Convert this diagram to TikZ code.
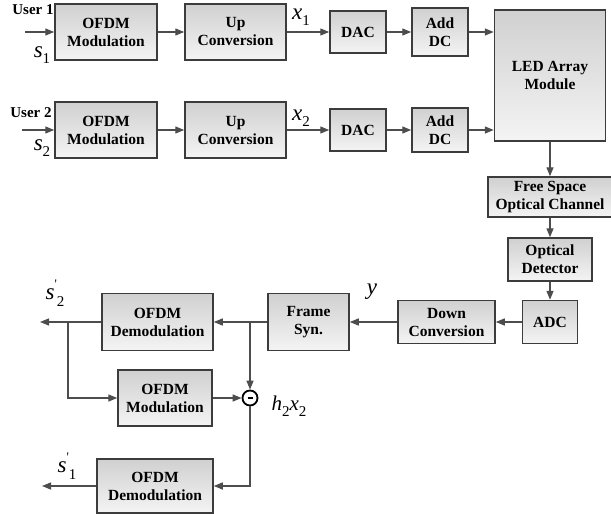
\documentclass[tikz,border=0pt]{standalone}
\usepackage{fontspec}
\setmainfont{Liberation Serif}
\usetikzlibrary{positioning, arrows.meta, calc}
\definecolor{blkline}{HTML}{3C3C3C}
\definecolor{blktop}{HTML}{D0D0D0}
\definecolor{blkbot}{HTML}{F4F4F4}
\definecolor{arrline}{HTML}{4D4D4D}
\tikzset{
  blk/.style={draw=blkline, line width=1.5pt, top color=blktop, bottom color=blkbot,
              align=center, inner sep=0pt, font=\fontsize{15.5}{18}\selectfont\bfseries},
  arr/.style={-{Triangle[length=9pt,width=7pt]}, line width=1.4pt, color=arrline},
  usr/.style={font=\fontsize{15}{18}\selectfont\bfseries, inner sep=0pt},
  lbl/.style={font=\fontsize{23}{23}\selectfont\itshape, inner sep=0pt}
}
\newcommand{\lsub}[1]{\raisebox{-0.28em}{\fontsize{15}{15}\selectfont\upshape #1}}
\newcommand{\lprime}{\raisebox{0.5em}{\fontsize{13}{13}\selectfont\upshape\textquotesingle}}

\begin{document}
\begin{tikzpicture}[x=1pt, y=-1pt]
        \useasboundingbox (0,0) rectangle (611,514);
        % transmitter, user 1
        \node[blk, minimum width=102, minimum height=56] (mod1) at (106,32) {OFDM\\Modulation};
        \node[blk, minimum width=101, minimum height=56] (up1) at (235.5,32) {Up\\Conversion};
        \node[blk, minimum width=56, minimum height=42] (dac1) at (358,32) {DAC};
        \node[blk, minimum width=56, minimum height=48] (dc1) at (440,32) {Add\\DC};
        % transmitter, user 2
        \node[blk, minimum width=102, minimum height=56] (mod2) at (106,130) {OFDM\\Modulation};
        \node[blk, minimum width=101, minimum height=56] (up2) at (235.5,130) {Up\\Conversion};
        \node[blk, minimum width=56, minimum height=42] (dac2) at (358,130) {DAC};
        \node[blk, minimum width=56, minimum height=44] (dc2) at (440,130) {Add\\DC};
        % channel
        \node[blk, minimum width=111, minimum height=131] (led) at (550,75.5) {LED Array\\Module};
        \node[blk, minimum width=124, minimum height=40] (fso) at (550,197) {Free Space\\Optical Channel};
        \node[blk, minimum width=84, minimum height=43] (det) at (550,259.5) {Optical\\Detector};
        \node[blk, minimum width=55, minimum height=43] (adc) at (550,322) {ADC};
        % receiver
        \node[blk, minimum width=97, minimum height=43] (down) at (446.5,322) {Down\\Conversion};
        \node[blk, minimum width=81, minimum height=57] (frame) at (308.5,322) {Frame\\Syn.};
        \node[blk, minimum width=111, minimum height=57] (demod2) at (157.5,322) {OFDM\\Demodulation};
        \node[blk, minimum width=94, minimum height=56] (mod3) at (165,398) {OFDM\\Modulation};
        \node[blk, minimum width=116, minimum height=54] (demod1) at (155,486) {OFDM\\Demodulation};
        \node[circle, draw=black, line width=1.8pt, fill=white, minimum size=15, inner sep=0pt]
              (mnus) at (250,398) {\rule{5pt}{2.2pt}};

        \coordinate (in1) at (25,32);
        \coordinate (in2) at (22,130);
        \coordinate (br1) at (250,322);
        \coordinate (br2) at (68,322);
        \coordinate (out2) at (40,322);
        \coordinate (out1) at (42,486);

        % labels
        \node[usr] (usr1) at (33,10) {User 1};
        \node[usr] (usr2) at (31,113) {User 2};
        \node[lbl] (s1) at (42,55) {s\lsub{1}};
        \node[lbl] (s2) at (42,148) {s\lsub{2}};
        \node[lbl] (x1) at (301,17) {x\lsub{1}};
        \node[lbl] (x2) at (301,118) {x\lsub{2}};
        \node[lbl] (y) at (372,292) {y};
        \node[lbl] (s2r) at (55,293) {s\lprime\lsub{2}};
        \node[lbl] (s1r) at (67,466) {s\lprime\lsub{1}};
        \node[lbl, font=\fontsize{21}{21}\selectfont\itshape] (hx) at (289,406) {h\lsub{2}x\lsub{2}};

        % connectors
        \draw[arr] (in1) -- (mod1);
        \draw[arr] (mod1) -- (up1);
        \draw[arr] (up1) -- (dac1);
        \draw[arr] (dac1) -- (dc1);
        \draw[arr] (dc1) -- (dc1 -| led.west);
        \draw[arr] (in2) -- (mod2);
        \draw[arr] (mod2) -- (up2);
        \draw[arr] (up2) -- (dac2);
        \draw[arr] (dac2) -- (dc2);
        \draw[arr] (dc2) -- (dc2 -| led.west);
        \draw[arr] (led) -- (fso);
        \draw[arr] (fso) -- (det);
        \draw[arr] (det) -- (adc);
        \draw[arr] (adc) -- (down);
        \draw[arr] (down) -- (frame);
        \draw[arr] (frame) -- (demod2);
        \draw[arr] (br1) -- (mnus);
        \draw[arr] (demod2) -- (out2);
        \draw[arr] (br2) |- (mod3);
        \draw[arr] (mod3) -- (mnus);
        \draw[arr] (mnus) |- (demod1);
        \draw[arr] (demod1) -- (out1);
\end{tikzpicture}
\end{document}
